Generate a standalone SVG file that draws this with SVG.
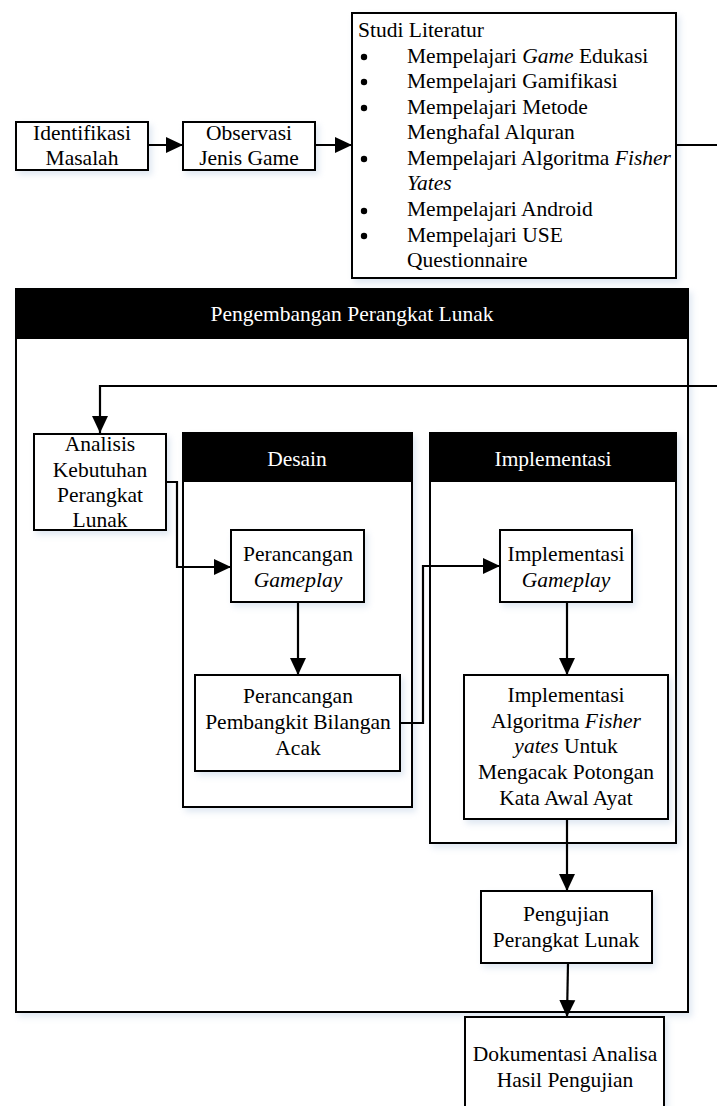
<svg xmlns="http://www.w3.org/2000/svg" width="717" height="1106" viewBox="0 0 717 1106">
<style>
.box{fill:#fff;stroke:#000;stroke-width:2;filter:url(#sh)}
.hdr{fill:#000}
.t{font-family:'Liberation Serif','Tinos','Times New Roman','DejaVu Serif',serif;font-size:21.5px;fill:#000}
.c{text-anchor:middle}
.w{fill:#fff}
.i{font-style:italic}
.ln{fill:none;stroke:#000;stroke-width:2.2;marker-end:url(#ah)}
</style>
<defs>
<filter id="sh" x="-10%" y="-10%" width="130%" height="130%">
<feDropShadow dx="3" dy="4" stdDeviation="3" flood-color="#b9cde3" flood-opacity="0.45"/>
</filter>
<marker id="ah" markerUnits="userSpaceOnUse" markerWidth="18" markerHeight="18" viewBox="0 0 18 18" refX="17" refY="9" orient="auto">
<path d="M0,1 L17,9 L0,17 Z" fill="#000"/>
</marker>
</defs>
<rect width="717" height="1106" fill="#fff"/>

<g id="pengembangan">
<rect class="box" x="16" y="289" width="672" height="723"/>
<rect class="hdr" x="16" y="289" width="672" height="50"/>
<text class="t c w" x="352" y="321">Pengembangan Perangkat Lunak</text>
</g>

<g id="identifikasi">
<rect class="box" x="16" y="122" width="132" height="48"/>
<text class="t c" x="82" y="140">Identifikasi</text>
<text class="t c" x="82" y="165">Masalah</text>
</g>

<g id="observasi">
<rect class="box" x="183" y="122" width="132" height="48"/>
<text class="t c" x="249" y="140">Observasi</text>
<text class="t c" x="249" y="165">Jenis Game</text>
</g>

<g id="studi">
<rect class="box" x="352" y="13" width="324" height="265"/>
<text class="t" x="358" y="37">Studi Literatur</text>
<g fill="#000">
<circle cx="364" cy="57" r="3.2"/>
<circle cx="364" cy="82" r="3.2"/>
<circle cx="364" cy="108" r="3.2"/>
<circle cx="364" cy="159" r="3.2"/>
<circle cx="364" cy="211" r="3.2"/>
<circle cx="364" cy="236" r="3.2"/>
</g>
<text class="t" x="407" y="63">Mempelajari <tspan class="i">Game</tspan> Edukasi</text>
<text class="t" x="407" y="88">Mempelajari Gamifikasi</text>
<text class="t" x="407" y="114">Mempelajari Metode</text>
<text class="t" x="407" y="139">Menghafal Alquran</text>
<text class="t" x="407" y="165">Mempelajari Algoritma <tspan class="i">Fisher</tspan></text>
<text class="t i" x="407" y="190">Yates</text>
<text class="t" x="407" y="216">Mempelajari Android</text>
<text class="t" x="407" y="242">Mempelajari USE</text>
<text class="t" x="407" y="267">Questionnaire</text>
</g>

<g id="analisis">
<rect class="box" x="34" y="434" width="132" height="96"/>
<text class="t c" x="100" y="451">Analisis</text>
<text class="t c" x="100" y="477">Kebutuhan</text>
<text class="t c" x="100" y="502">Perangkat</text>
<text class="t c" x="100" y="527">Lunak</text>
</g>

<g id="desain">
<rect class="box" x="183" y="433" width="229" height="374"/>
<rect class="hdr" x="183" y="433" width="229" height="49"/>
<text class="t c w" x="297" y="466">Desain</text>
</g>

<g id="implementasi">
<rect class="box" x="430" y="433" width="246" height="410"/>
<rect class="hdr" x="430" y="433" width="246" height="49"/>
<text class="t c w" x="553" y="466">Implementasi</text>
</g>

<g id="perancangan-gameplay">
<rect class="box" x="231" y="530" width="133" height="72"/>
<text class="t c" x="298" y="561">Perancangan</text>
<text class="t c i" x="298" y="587">Gameplay</text>
</g>

<g id="perancangan-pembangkit">
<rect class="box" x="195" y="675" width="205" height="96"/>
<text class="t c" x="298" y="703">Perancangan</text>
<text class="t c" x="298" y="729">Pembangkit Bilangan</text>
<text class="t c" x="298" y="755">Acak</text>
</g>

<g id="implementasi-gameplay">
<rect class="box" x="500" y="530" width="132" height="72"/>
<text class="t c" x="566" y="561">Implementasi</text>
<text class="t c i" x="566" y="587">Gameplay</text>
</g>

<g id="implementasi-algoritma">
<rect class="box" x="464" y="675" width="204" height="144"/>
<text class="t c" x="566" y="702">Implementasi</text>
<text class="t c" x="566" y="728">Algoritma <tspan class="i">Fisher</tspan></text>
<text class="t c" x="566" y="753"><tspan class="i">yates</tspan> Untuk</text>
<text class="t c" x="566" y="779">Mengacak Potongan</text>
<text class="t c" x="566" y="805">Kata Awal Ayat</text>
</g>

<g id="pengujian">
<rect class="box" x="481" y="891" width="171" height="72"/>
<text class="t c" x="566" y="921">Pengujian</text>
<text class="t c" x="566" y="947">Perangkat Lunak</text>
</g>

<g id="dokumentasi">
<rect class="box" x="465" y="1017" width="199" height="100"/>
<text class="t c" x="565" y="1061">Dokumentasi Analisa</text>
<text class="t c" x="565" y="1087">Hasil Pengujian</text>
</g>

<g id="connectors">
<path class="ln" d="M148,145 H183"/>
<path class="ln" d="M315,145 H352"/>
<path class="ln" d="M676,145 H720 V386 H100 V433"/>
<path class="ln" d="M166,482 H177 V567 H231"/>
<path class="ln" d="M298,602 V675"/>
<path class="ln" d="M400,723 H423 V566 H500"/>
<path class="ln" d="M567,602 V675"/>
<path class="ln" d="M567,819 V891"/>
<path class="ln" d="M568,963 L567,1017"/>
</g>
</svg>
